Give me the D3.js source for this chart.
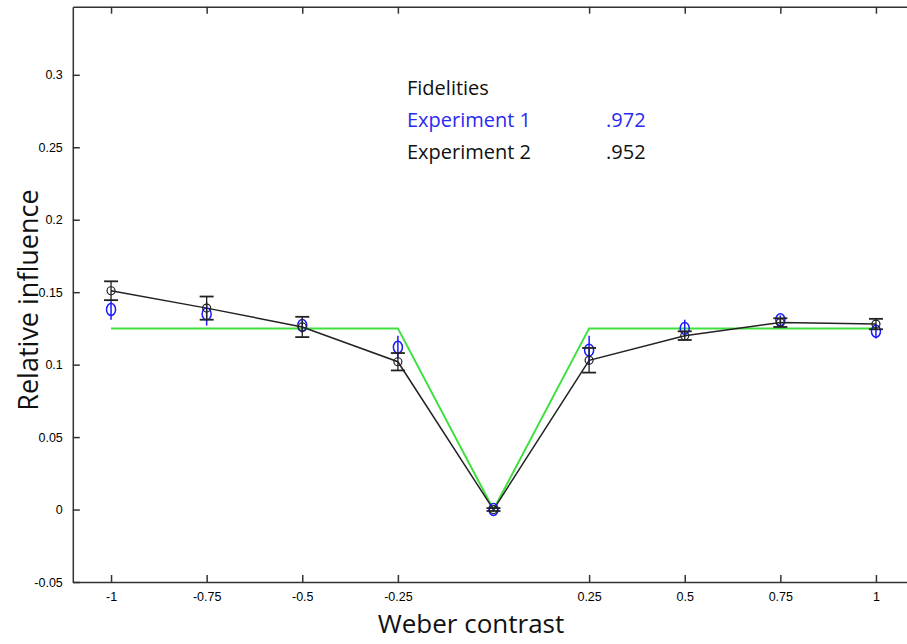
<!DOCTYPE html>
<html>
<head>
<meta charset="utf-8">
<script src="https://cdn.jsdelivr.net/npm/d3@7"></script>
<style>
  body { margin: 0; background: #fff; }
  .tick text { font-family: "Liberation Sans Narrow", "Arial Narrow", "Liberation Sans", sans-serif; font-size: 12.5px; fill: #000; }
  .axis path, .axis line { stroke: #333; stroke-width: 1.5; }
</style>
</head>
<body>
<div id="chart-area"></div>
<script>
// data
var contrast = [-1, -0.75, -0.5, -0.25, 0, 0.25, 0.5, 0.75, 1];
var exp1 = [0.138, 0.135, 0.127, 0.112, 0, 0.110, 0.125, 0.131, 0.123];
var exp1Err = [0.007, 0.008, 0.005, 0.008, 0.001, 0.010, 0.006, 0.003, 0.005];
var exp2 = [0.151, 0.139, 0.126, 0.102, 0, 0.103, 0.120, 0.129, 0.128];
var exp2Err = [0.0065, 0.008, 0.007, 0.006, 0.001, 0.0085, 0.003, 0.003, 0.0036];
var model = [0.125, 0.125, 0.125, 0.125, 0, 0.125, 0.125, 0.125, 0.125];

var xTicks = [-1, -0.75, -0.5, -0.25, 0.25, 0.5, 0.75, 1];
var yTicks = [-0.05, 0, 0.05, 0.1, 0.15, 0.2, 0.25, 0.3];

var legendRows = [
    { name: "Fidelities", value: "", color: "#111" },
    { name: "Experiment 1", value: ".972", color: "#2a2af0" },
    { name: "Experiment 2", value: ".952", color: "#111" }
];

var width = 907, height = 644;

var svg = d3.select("#chart-area")
    .append("svg")
        .attr("width", width)
        .attr("height", height);

// Scales
var x = d3.scaleLinear()
    .domain([-1.1, 1.1])
    .range([72.8, 914.2]);
var y = d3.scaleLinear()
    .domain([-0.05, 0.347])
    .range([582, 6.7]);

// Axes (ticks point inward)
var fmt = function(d){ return String(d); };

svg.append("g")
    .attr("class", "x axis")
    .attr("transform", "translate(0," + y(-0.05) + ")")
    .call(d3.axisBottom(x).tickValues(xTicks).tickFormat(fmt).tickSizeInner(-7).tickSizeOuter(0).tickPadding(10));

svg.append("g")
    .attr("class", "x axis")
    .attr("transform", "translate(0," + y(0.347) + ")")
    .call(d3.axisTop(x).tickValues(xTicks).tickFormat("").tickSizeInner(-7).tickSizeOuter(0));

svg.append("g")
    .attr("class", "y axis")
    .attr("transform", "translate(" + x(-1.1) + ",0)")
    .call(d3.axisLeft(y).tickValues(yTicks).tickFormat(fmt).tickSizeInner(-7).tickSizeOuter(0).tickPadding(10));

svg.append("g")
    .attr("class", "y axis")
    .attr("transform", "translate(" + x(1.1) + ",0)")
    .call(d3.axisRight(y).tickValues(yTicks).tickFormat("").tickSizeInner(-7).tickSizeOuter(0));

// Model line (green)
var line = d3.line()
    .x(function(d){ return x(d[0]); })
    .y(function(d){ return y(d[1]); });

svg.append("path")
    .datum(d3.zip(contrast, model))
    .attr("fill", "none")
    .attr("stroke", "#3ee03e")
    .attr("stroke-width", 2)
    .attr("d", line);

// Experiment 2 line (black)
svg.append("path")
    .datum(d3.zip(contrast, exp2))
    .attr("fill", "none")
    .attr("stroke", "#222")
    .attr("stroke-width", 1.5)
    .attr("d", line);

// Experiment 1 (blue) markers and error bars
var g1 = svg.append("g");
g1.selectAll("line.err")
    .data(d3.range(contrast.length))
    .enter().append("line")
        .attr("x1", function(i){ return x(contrast[i]); })
        .attr("x2", function(i){ return x(contrast[i]); })
        .attr("y1", function(i){ return y(exp1[i] + exp1Err[i]); })
        .attr("y2", function(i){ return y(exp1[i] - exp1Err[i]); })
        .attr("stroke", "#1a1aff")
        .attr("stroke-width", 1.5);
g1.selectAll("ellipse")
    .data(d3.range(contrast.length))
    .enter().append("ellipse")
        .attr("cx", function(i){ return x(contrast[i]); })
        .attr("cy", function(i){ return y(exp1[i]); })
        .attr("rx", 4.5)
        .attr("ry", 6)
        .attr("fill", "none")
        .attr("stroke", "#1a1aff")
        .attr("stroke-width", 1.5);

// Experiment 2 (black) markers and error bars with caps
var g2 = svg.append("g");
var capW = 7;
d3.range(contrast.length).forEach(function(i) {
    var cx = x(contrast[i]);
    var top = y(exp2[i] + exp2Err[i]), bot = y(exp2[i] - exp2Err[i]);
    g2.append("line").attr("x1", cx).attr("x2", cx).attr("y1", top).attr("y2", bot)
        .attr("stroke", "#222").attr("stroke-width", 1.3);
    [top, bot].forEach(function(yy) {
        g2.append("line").attr("x1", cx - capW).attr("x2", cx + capW).attr("y1", yy).attr("y2", yy)
            .attr("stroke", "#222").attr("stroke-width", 1.8);
    });
    g2.append("circle")
        .attr("cx", cx)
        .attr("cy", y(exp2[i]))
        .attr("r", 4)
        .attr("fill", "none")
        .attr("stroke", "#222")
        .attr("stroke-width", 1.2);
});

// Fidelities text
var legend = svg.append("g");
legendRows.forEach(function(row, i) {
    var yy = 95 + i * 32;
    legend.append("text")
        .attr("x", 407).attr("y", yy)
        .attr("fill", row.color)
        .style("font-family", "'Open Sans', sans-serif")
        .style("font-size", "20px")
        .text(row.name);
    legend.append("text")
        .attr("x", 606).attr("y", yy)
        .attr("fill", row.color)
        .style("font-family", "'Open Sans', sans-serif")
        .style("font-size", "20px")
        .text(row.value);
});

// Axis titles
svg.append("text")
    .attr("x", 471)
    .attr("y", 633)
    .attr("text-anchor", "middle")
    .style("font-family", "'Open Sans', sans-serif")
    .style("font-size", "26px")
    .attr("fill", "#111")
    .text("Weber contrast");

svg.append("text")
    .attr("transform", "rotate(-90)")
    .attr("x", -300)
    .attr("y", 38)
    .attr("text-anchor", "middle")
    .style("font-family", "'Open Sans', sans-serif")
    .style("font-size", "27px")
    .attr("fill", "#111")
    .text("Relative influence");
</script>
</body>
</html>
